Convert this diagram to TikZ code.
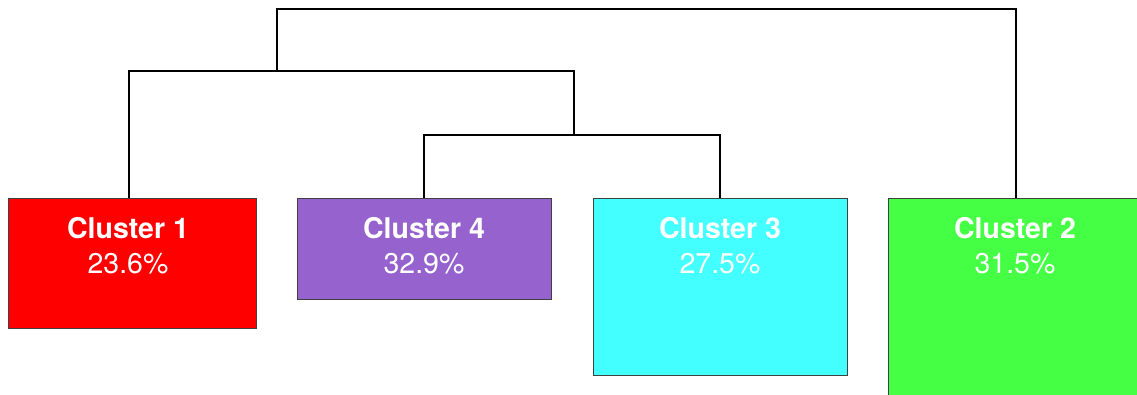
\documentclass[tikz,border=0pt]{standalone}
\usepackage{fontspec}
\setmainfont{TeX Gyre Heros}
\begin{document}
\begin{tikzpicture}[x=1pt,y=-1pt,
  cbox/.style={draw=black!75,line width=0.8pt,inner sep=0pt,anchor=north west},
  ttl/.style={text=white,font=\fontsize{28.5}{31}\selectfont\bfseries,anchor=base,inner sep=0pt},
  pct/.style={text=white,font=\fontsize{28.5}{31}\selectfont,anchor=base,inner sep=0pt},
  link/.style={line width=2pt,black}]
\useasboundingbox (0,0) rectangle (1137,394);
\clip (0,0) rectangle (1137,394);
\definecolor{cred}{HTML}{FF0000}
\definecolor{cpur}{HTML}{9562CE}
\definecolor{ccyan}{HTML}{44FFFF}
\definecolor{cgreen}{HTML}{44FF44}
\node[cbox,fill=cred,minimum width=248pt,minimum height=130pt] (c1) at (8,198) {};
\node[cbox,fill=cpur,minimum width=254pt,minimum height=101pt] (c4) at (297,198) {};
\node[cbox,fill=ccyan,minimum width=254pt,minimum height=177pt] (c3) at (593,198) {};
\node[cbox,fill=cgreen,minimum width=260pt,minimum height=210pt] (c2) at (888,198) {};
% anchor points on top edges
\coordinate (a1) at (129,198);
\coordinate (a4) at (424,198);
\coordinate (a3) at (720,198);
\coordinate (a2) at (1016,198);
\node[ttl] (t1) at (128,238.5) {Cluster 1};
\node[pct] (p1) at (128,273.5) {23.6\%};
\node[ttl] (t4) at (424,238.5) {Cluster 4};
\node[pct] (p4) at (424,273.5) {32.9\%};
\node[ttl] (t3) at (720,238.5) {Cluster 3};
\node[pct] (p3) at (720,273.5) {27.5\%};
\node[ttl] (t2) at (1015,238.5) {Cluster 2};
\node[pct] (p2) at (1015,273.5) {31.5\%};
% dendrogram
\coordinate (m43) at (574,135);
\coordinate (m143) at (277,71);
\draw[link] (a4) |- (m43) -| (a3);
\draw[link] (a1) |- (m143) -| (m43);
\draw[link] (m143) |- (1016,9) -- (a2);
\end{tikzpicture}
\end{document}
